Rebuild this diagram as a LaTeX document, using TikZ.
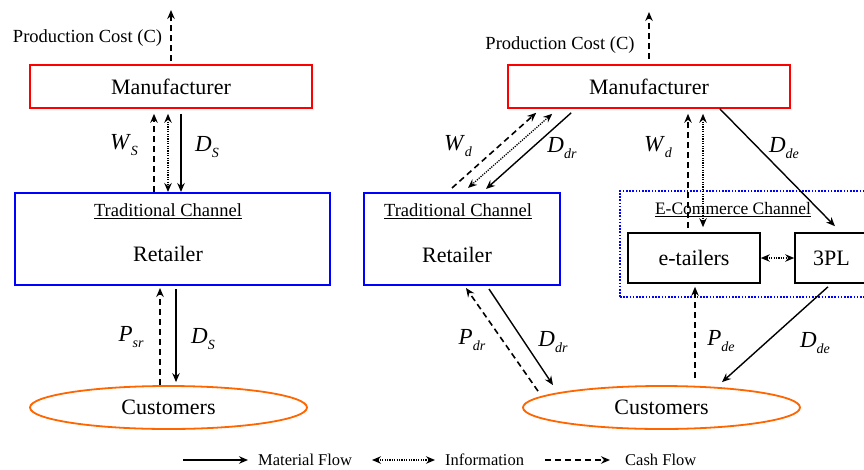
\documentclass[tikz,border=0pt]{standalone}
\usepackage{fontspec}
\setmainfont{Liberation Serif}
\usetikzlibrary{arrows.meta,shapes.geometric}
\definecolor{custorange}{RGB}{255,102,0}
\newcommand{\flowvar}[2]{\textit{#1}\raisebox{-0.55ex}{\fontsize{14}{14}\selectfont\textit{#2}}}
\tikzset{
    firm/.style={
        draw=red,
        line width=1.6pt,
        minimum width=282pt,
        minimum height=43pt,
        font=\fontsize{22}{26}\selectfont
    },
    channel/.style={
        draw=blue,
        line width=2pt,
        minimum height=92pt
    },
    ecom/.style={
        draw=blue,
        line width=1.6pt,
        dash pattern=on 1.6pt off 1.6pt
    },
    seller/.style={
        draw=black,
        line width=1.6pt,
        minimum height=50pt,
        font=\fontsize{22}{26}\selectfont
    },
    market/.style={
        ellipse,
        draw=custorange,
        line width=1.8pt,
        minimum width=277pt,
        minimum height=43pt,
        font=\fontsize{22}{26}\selectfont
    },
    bigtext/.style={font=\fontsize{22}{26}\selectfont},
    chanlab/.style={font=\fontsize{18.5}{22}\selectfont},
    costlab/.style={font=\fontsize{18.5}{22}\selectfont},
    varlab/.style={font=\fontsize{23}{26}\selectfont},
    legendlab/.style={font=\fontsize{16.5}{20}\selectfont, anchor=west, inner sep=2pt},
    mat/.style={
        -{Stealth[length=9pt,width=7.5pt,inset=3pt]},
        line width=1.4pt
    },
    info/.style={
        {Stealth[length=9pt,width=7.5pt,inset=3pt]}-{Stealth[length=9pt,width=7.5pt,inset=3pt]},
        line width=1.3pt,
        dash pattern=on 1.2pt off 1.2pt
    },
    cash/.style={
        -{Stealth[length=9pt,width=7.5pt,inset=3pt]},
        line width=1.6pt,
        dash pattern=on 6pt off 4pt
    }
}

\begin{document}
\begin{tikzpicture}[x=1pt,y=-1pt]
    \useasboundingbox (0,0) rectangle (864,469);
    \clip (0,0) rectangle (864,469);

    \node[firm] (M1) at (171,86.5) {Manufacturer};
    \node[costlab] (PC1) at (87.5,38) {Production Cost (C)};
    \coordinate (U1) at (171,10);
    \node[channel, minimum width=315pt] (R1) at (172.5,239) {};
    \node[chanlab] (T1) at (168,211) {\underline{Traditional Channel}};
    \node[bigtext] (RT1) at (168,254) {Retailer};
    \node[market] (C1) at (168.5,407.5) {Customers};

    \draw[cash] ([yshift=3pt]M1.north) -- (U1);
    \draw[cash] ([xshift=-17pt]M1.south |- R1.north) -- ([xshift=-17pt,yshift=-5pt]M1.south);
    \draw[info] ([xshift=-3pt,yshift=-5pt]M1.south) -- ([xshift=-3pt]M1.south |- R1.north);
    \draw[mat] ([xshift=10pt,yshift=-5pt]M1.south) -- ([xshift=10pt]M1.south |- R1.north);
    \node[varlab] (WS1) at (124,145) {\flowvar{W}{S}};
    \node[varlab] (DS1) at (207,147) {\flowvar{D}{S}};

    \draw[cash] ([xshift=-8.5pt]C1.north) -- ([xshift=-8.5pt,yshift=-2pt]C1.north |- R1.south);
    \draw[mat] ([xshift=7.5pt,yshift=-3pt]C1.north |- R1.south) -- ([xshift=7.5pt,yshift=3pt]C1.north);
    \node[varlab] (PS1) at (131,337) {\flowvar{P}{sr}};
    \node[varlab] (DS2) at (203,339) {\flowvar{D}{S}};

    \node[firm] (M2) at (649,86.5) {Manufacturer};
    \node[costlab] (PC2) at (560,45) {Production Cost (C)};
    \coordinate (U2) at (649,12);
    \node[channel, minimum width=196pt] (R2) at (462,239) {};
    \node[chanlab] (T2) at (458,211) {\underline{Traditional Channel}};
    \node[bigtext] (RT2) at (457,255) {Retailer};
    \node[ecom, minimum width=250pt, minimum height=106pt] (EC) at (745,244) {};
    \node[chanlab, font=\fontsize{17.5}{21}\selectfont] (T3) at (733,210) {\underline{E-Commerce Channel}};
    \node[seller, minimum width=132pt] (ET) at (694,258) {e-tailers};
    \node[seller, minimum width=73pt] (TPL) at (831.5,258) {3PL};
    \node[market] (C2) at (661.5,407.5) {Customers};

    \draw[cash] ([yshift=5pt]M2.north) -- (U2);
    \draw[cash] ([xshift=-10pt,yshift=4pt]R2.north) -- ([xshift=29pt,yshift=-4pt]M2.south west);
    \draw[info] ([xshift=45pt,yshift=-5pt]M2.south west) -- ([xshift=6pt,yshift=4pt]R2.north);
    \draw[mat] ([xshift=64pt,yshift=-4pt]M2.south west) -- ([xshift=24pt,yshift=3pt]R2.north);
    \node[varlab] (WD1) at (458,146) {\flowvar{W}{d}};
    \node[varlab] (DD1) at (562,148) {\flowvar{D}{dr}};

    \draw[cash] ([xshift=-6pt,yshift=4pt]ET.north) -- ([xshift=-6pt,yshift=-5pt]ET.north |- M2.south);
    \draw[info] ([xshift=9pt,yshift=-5pt]ET.north |- M2.south) -- ([xshift=9pt,yshift=5pt]ET.north);
    \draw[mat] ([xshift=-71pt]M2.south east) -- ([xshift=3.5pt,yshift=6pt]TPL.north);
    \node[varlab] (WD2) at (658,147) {\flowvar{W}{d}};
    \node[varlab] (DE1) at (784,148) {\flowvar{D}{de}};
    \draw[info] (ET.east) -- (TPL.west);

    \draw[cash] ([xshift=-123.5pt,yshift=-6pt]C2.north) -- ([xshift=4pt,yshift=-2pt]R2.south);
    \draw[mat] ([xshift=27pt,yshift=-3pt]R2.south) -- ([xshift=-108.5pt]C2.north);
    \node[varlab] (PD1) at (472,340) {\flowvar{P}{dr}};
    \node[varlab] (DD2) at (553,342) {\flowvar{D}{dr}};
    \draw[cash] ([xshift=33.5pt,yshift=7pt]C2.north) -- ([xshift=1pt,yshift=-3pt]ET.south);
    \draw[mat] ([xshift=-3.5pt,yshift=-3pt]TPL.south) -- ([xshift=60.5pt,yshift=3pt]C2.north);
    \node[varlab] (PD2) at (721,341) {\flowvar{P}{de}};
    \node[varlab] (DE2) at (815,343) {\flowvar{D}{de}};

    \coordinate (L1) at (183,460);
    \node[legendlab] (LT1) at (256,460) {Material Flow};
    \draw[mat] (L1) -- ([xshift=-8pt]LT1.west);
    \coordinate (L2) at (372,460);
    \node[legendlab] (LT2) at (443,460) {Information};
    \draw[info] (L2) -- ([xshift=-8pt]LT2.west);
    \coordinate (L3) at (545,460);
    \node[legendlab] (LT3) at (623,460) {Cash Flow};
    \draw[cash] (L3) -- ([xshift=-13pt]LT3.west);
\end{tikzpicture}
\end{document}
